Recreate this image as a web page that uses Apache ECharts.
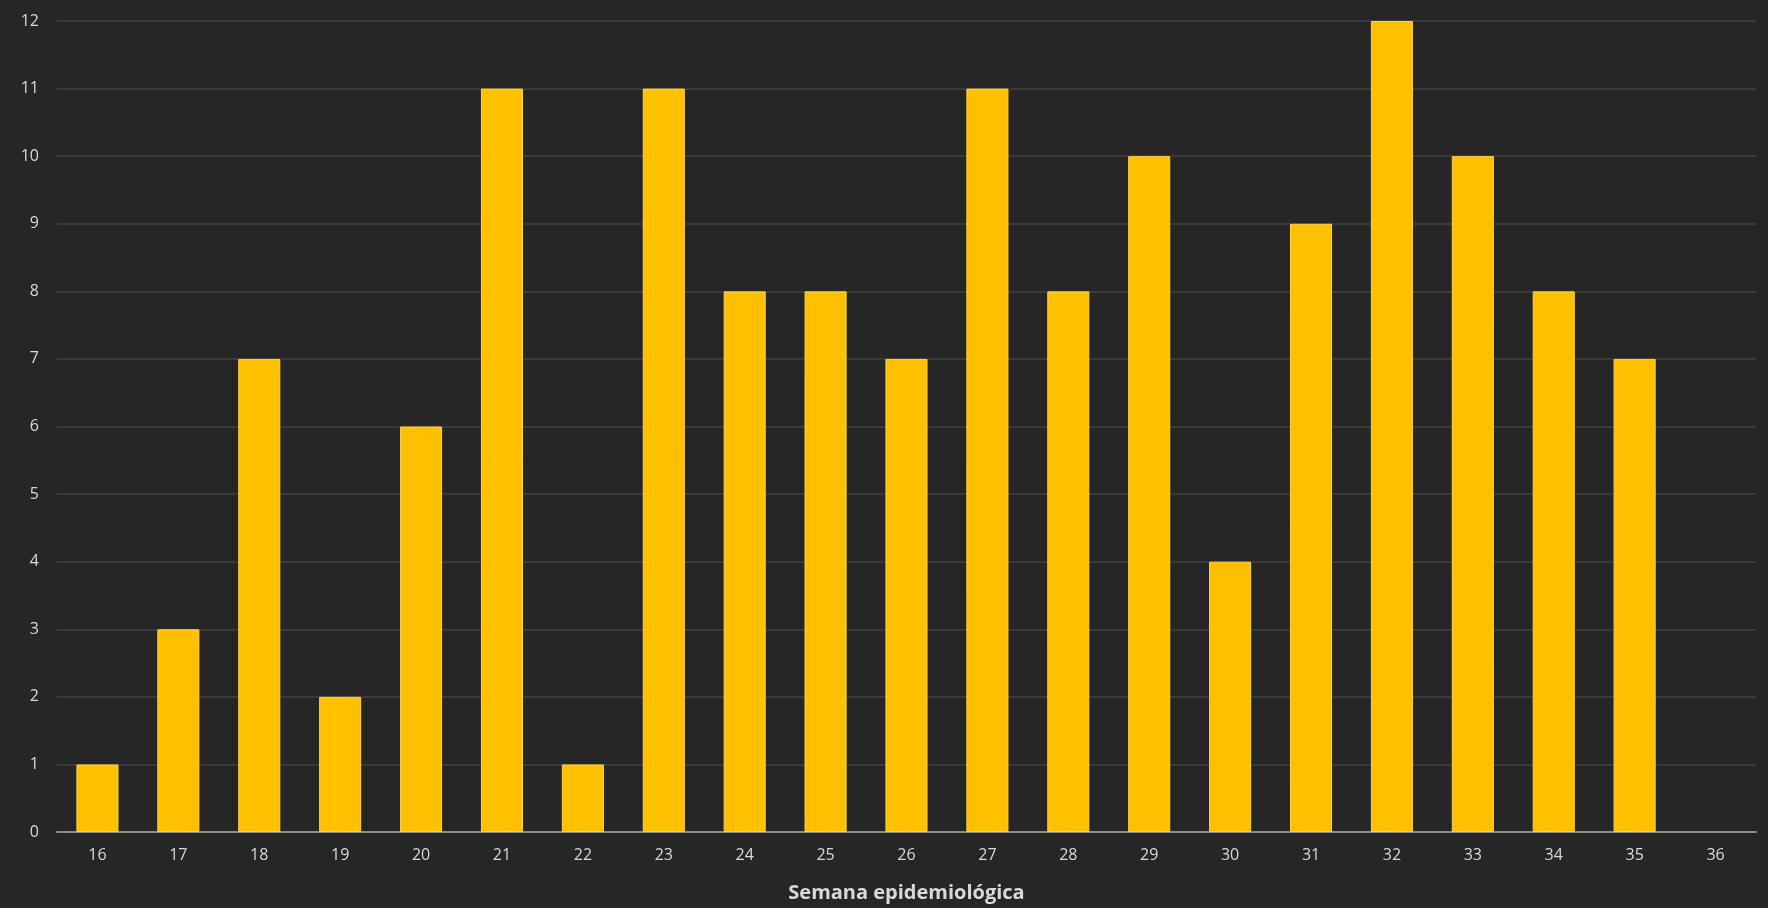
<!DOCTYPE html>
<html>
<head>
<meta charset="utf-8">
<script src="https://cdn.jsdelivr.net/npm/echarts@6/dist/echarts.min.js"></script>
<style>
html,body{margin:0;padding:0;background:#262626;}
#chart{width:1768px;height:908px;}
</style>
</head>
<body>
<div id="chart"></div>
<script>
const weeks = ['16','17','18','19','20','21','22','23','24','25','26','27','28','29','30','31','32','33','34','35','36'];
const cases = [1,3,7,2,6,11,1,11,8,8,7,11,8,10,4,9,12,10,8,7,null];
const xTitle = 'Semana epidemiológica';

const chart = echarts.init(document.getElementById('chart'));
chart.setOption({
  backgroundColor: '#262626',
  animation: false,
  grid: {left: 57, right: 12, top: 21, bottom: 76, containLabel: false},
  xAxis: {
    type: 'category',
    data: weeks,
    name: xTitle,
    nameLocation: 'middle',
    nameGap: 51,
    nameTextStyle: {color: '#d9d9d9', fontSize: 20, fontWeight: 'bold', fontFamily: 'Open Sans'},
    axisLine: {lineStyle: {color: '#8c8c8c', width: 2}},
    axisTick: {show: false},
    axisLabel: {color: '#d9d9d9', fontSize: 16, margin: 15, fontFamily: 'Open Sans'}
  },
  yAxis: {
    type: 'value',
    min: 0, max: 12, interval: 1,
    axisLine: {show: false},
    axisTick: {show: false},
    axisLabel: {color: '#d9d9d9', fontSize: 16, margin: 18, fontFamily: 'Open Sans'},
    splitLine: {lineStyle: {color: '#424242', width: 1.5}}
  },
  series: [{
    type: 'bar',
    data: cases,
    barWidth: '52%',
    itemStyle: {color: '#FFC000', borderColor: '#FFD34D', borderWidth: 1}
  }]
});
</script>
</body>
</html>
